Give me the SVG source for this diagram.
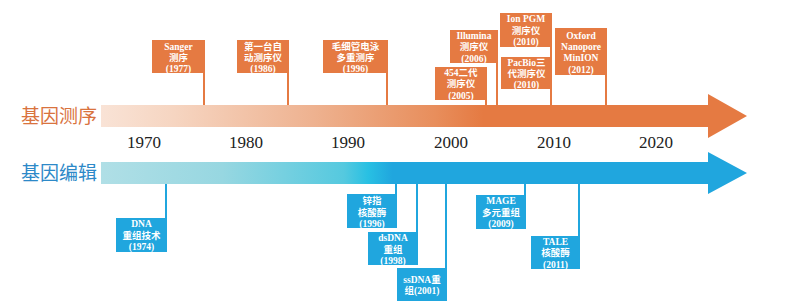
<svg xmlns="http://www.w3.org/2000/svg" width="789" height="307" viewBox="0 0 789 307">
<defs>
<linearGradient id="gOrange" gradientUnits="userSpaceOnUse" x1="101" y1="0" x2="708" y2="0">
<stop offset="0" stop-color="#f9e3d6"/>
<stop offset="0.12" stop-color="#f6d5c1"/>
<stop offset="0.35" stop-color="#eeb290"/>
<stop offset="0.55" stop-color="#e88e5c"/>
<stop offset="0.63" stop-color="#e57a42"/>
<stop offset="1" stop-color="#e57a42"/>
</linearGradient>
<linearGradient id="gBlue" gradientUnits="userSpaceOnUse" x1="101" y1="0" x2="708" y2="0">
<stop offset="0" stop-color="#b0dfe6"/>
<stop offset="0.2" stop-color="#97d7e1"/>
<stop offset="0.4" stop-color="#55c9df"/>
<stop offset="0.44" stop-color="#28c0e3"/>
<stop offset="0.48" stop-color="#20a6de"/>
<stop offset="1" stop-color="#20a6de"/>
</linearGradient>
</defs>
<style>
.ob{fill:#e57a42}
.bb{fill:#20a6de}
.os{stroke:#e57a42;stroke-width:2;fill:none}
.bs{stroke:#20a6de;stroke-width:2;fill:none}
.bt{font-family:"Liberation Serif","Noto Sans CJK SC",serif;font-weight:bold;font-size:9.5px;fill:#ffffff;text-anchor:middle}
.yr{font-family:"Liberation Serif",serif;font-size:17px;fill:#222222;text-anchor:middle}
.lab{font-family:"Noto Sans CJK SC",sans-serif;font-size:19px}
</style>

<g id="timeline-sequencing">
<polygon points="101,105 708,105 708,94 747,116 708,138 708,127 101,127" fill="url(#gOrange)"/>
<text class="lab" x="21" y="123" fill="#d9733e">基因测序</text>
</g>
<g id="timeline-editing">
<polygon points="101,162 708,162 708,152 747,173 708,194 708,184 101,184" fill="url(#gBlue)"/>
<text class="lab" x="21" y="180" fill="#2d89c8">基因编辑</text>
</g>

<g id="years">
<text class="yr" x="144" y="148">1970</text>
<text class="yr" x="246" y="148">1980</text>
<text class="yr" x="348" y="148">1990</text>
<text class="yr" x="451" y="148">2000</text>
<text class="yr" x="554" y="148">2010</text>
<text class="yr" x="656" y="148">2020</text>
</g>

<g id="connectors">
<line class="os" x1="204" y1="73" x2="204" y2="105"/>
<line class="os" x1="288" y1="73" x2="288" y2="105"/>
<line class="os" x1="387" y1="73" x2="387" y2="105"/>
<line class="os" x1="486" y1="100" x2="486" y2="105"/>
<line class="os" x1="497" y1="63" x2="497" y2="105"/>
<line class="os" x1="551" y1="47" x2="551" y2="105"/>
<line class="os" x1="606" y1="75" x2="606" y2="105"/>
<line class="bs" x1="166" y1="184" x2="166" y2="218"/>
<line class="bs" x1="396" y1="184" x2="396" y2="194"/>
<line class="bs" x1="417" y1="184" x2="417" y2="232"/>
<line class="bs" x1="446" y1="184" x2="446" y2="268"/>
<line class="bs" x1="525" y1="184" x2="525" y2="195"/>
<line class="bs" x1="579" y1="184" x2="579" y2="236"/>
</g>

<g id="n-sanger">
<rect class="ob" x="152" y="40" width="53" height="33"/>
<text class="bt" x="178.5" y="49.5">Sanger</text>
<text class="bt" x="178.5" y="60.5">测序</text>
<text class="bt" x="178.5" y="71.5">(1977)</text>
</g>
<g id="n-1986">
<rect class="ob" x="237" y="40" width="52" height="33"/>
<text class="bt" x="263" y="49.5">第一台自</text>
<text class="bt" x="263" y="60.5">动测序仪</text>
<text class="bt" x="263" y="71.5">(1986)</text>
</g>
<g id="n-1996">
<rect class="ob" x="323" y="40" width="65" height="33"/>
<text class="bt" x="355.5" y="49.5">毛细管电泳</text>
<text class="bt" x="355.5" y="60.5">多重测序</text>
<text class="bt" x="355.5" y="71.5">(1996)</text>
</g>
<g id="n-454">
<rect class="ob" x="435" y="67" width="52" height="33"/>
<text class="bt" x="461" y="75.5">454二代</text>
<text class="bt" x="461" y="87">测序仪</text>
<text class="bt" x="461" y="99">(2005)</text>
</g>
<g id="n-illumina">
<rect class="ob" x="450" y="30" width="48" height="33"/>
<text class="bt" x="474" y="38.5">Illumina</text>
<text class="bt" x="474" y="50">测序仪</text>
<text class="bt" x="474" y="62">(2006)</text>
</g>
<g id="n-ionpgm">
<rect class="ob" x="500" y="13" width="52" height="34"/>
<text class="bt" x="526" y="21.5">Ion PGM</text>
<text class="bt" x="526" y="33.5">测序仪</text>
<text class="bt" x="526" y="45">(2010)</text>
</g>
<g id="n-pacbio">
<rect class="ob" x="501" y="57" width="51" height="32"/>
<text class="bt" x="526.5" y="66">PacBio三</text>
<text class="bt" x="526.5" y="76.5">代测序仪</text>
<text class="bt" x="526.5" y="88">(2010)</text>
</g>
<g id="n-oxford">
<rect class="ob" x="555" y="28" width="52" height="47"/>
<text class="bt" x="581" y="38.5">Oxford</text>
<text class="bt" x="581" y="50">Nanopore</text>
<text class="bt" x="581" y="61">MinION</text>
<text class="bt" x="581" y="73">(2012)</text>
</g>

<g id="n-dna">
<rect class="bb" x="116" y="218" width="51" height="34"/>
<text class="bt" x="141.5" y="226.5">DNA</text>
<text class="bt" x="141.5" y="238.5">重组技术</text>
<text class="bt" x="141.5" y="250">(1974)</text>
</g>
<g id="n-zfn">
<rect class="bb" x="347" y="194" width="50" height="34"/>
<text class="bt" x="372" y="204">锌指</text>
<text class="bt" x="372" y="215.5">核酸酶</text>
<text class="bt" x="372" y="226.5">(1996)</text>
</g>
<g id="n-dsdna">
<rect class="bb" x="368" y="232" width="50" height="33"/>
<text class="bt" x="393" y="241">dsDNA</text>
<text class="bt" x="393" y="252.5">重组</text>
<text class="bt" x="393" y="263.5">(1998)</text>
</g>
<g id="n-ssdna">
<rect class="bb" x="397" y="268" width="50" height="33"/>
<text class="bt" x="422" y="282.5">ssDNA重</text>
<text class="bt" x="422" y="294">组(2001)</text>
</g>
<g id="n-mage">
<rect class="bb" x="476" y="195" width="50" height="34"/>
<text class="bt" x="501" y="203.5">MAGE</text>
<text class="bt" x="501" y="215.5">多元重组</text>
<text class="bt" x="501" y="227">(2009)</text>
</g>
<g id="n-tale">
<rect class="bb" x="531" y="236" width="49" height="33"/>
<text class="bt" x="555.5" y="244.5">TALE</text>
<text class="bt" x="555.5" y="256">核酸酶</text>
<text class="bt" x="555.5" y="267.5">(2011)</text>
</g>
</svg>
